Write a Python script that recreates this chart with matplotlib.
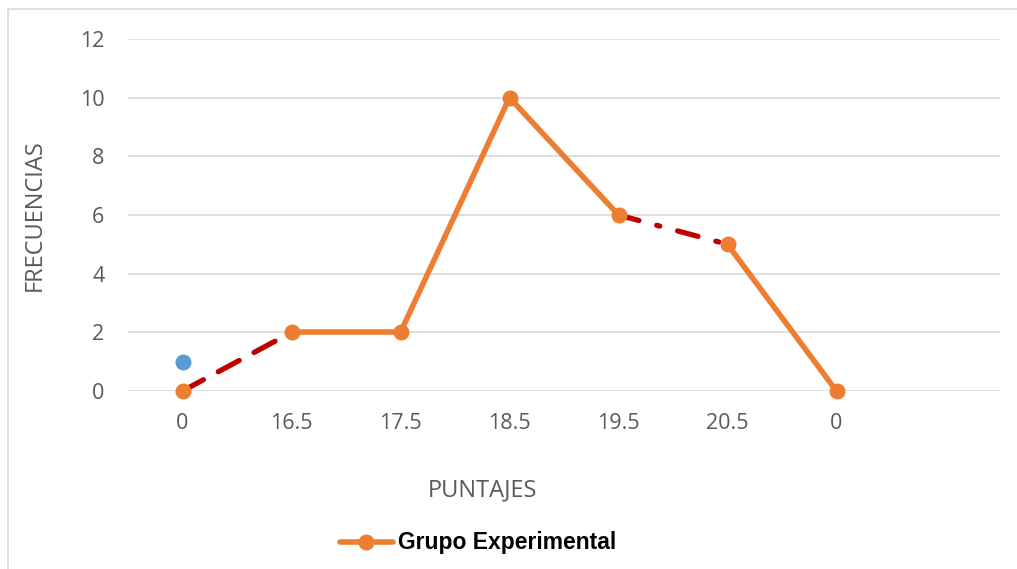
import matplotlib.pyplot as plt
from matplotlib.patches import Rectangle

# chart data
categorias = ['0', '16.5', '17.5', '18.5', '19.5', '20.5', '0', '']
frecuencias = [0, 2, 2, 10, 6, 5, 0]
punto_azul = [1]
tramos_rojos = [(0, 1, (0, (4.5, 3.2))), (4, 5, (0, (4.0, 3.5, 0.6, 3.5)))]

NARANJA = '#ED7D31'
ROJO = '#C00000'
AZUL = '#5B9BD5'
GRIS = '#595959'

fig = plt.figure(figsize=(10.17, 5.69), dpi=100)
W, H = 1017, 569
ax = fig.add_axes([128 / W, 1 - 391 / H, (1000 - 128) / W, (391 - 39) / H])

# outer chart frame (left/top edges visible)
fig.patches.append(Rectangle((8 / W, -0.1), 1.2, 1 - 9 / H + 0.1, transform=fig.transFigure,
                             fill=False, edgecolor='#D9D9D9', linewidth=1.2))

x = list(range(len(frecuencias)))

# solid orange segments
for i in range(len(frecuencias) - 1):
    if any(a == i for a, b, s in tramos_rojos):
        continue
    ax.plot([x[i], x[i + 1]], [frecuencias[i], frecuencias[i + 1]], color=NARANJA,
            linewidth=4, solid_capstyle='round', zorder=3, clip_on=False)

# red dashed segments
for a, b, estilo in tramos_rojos:
    ax.plot([x[a], x[b]], [frecuencias[a], frecuencias[b]], color=ROJO, linewidth=3.8,
            linestyle=estilo, dash_capstyle='round', zorder=3, clip_on=False)

ax.plot(x, frecuencias, linestyle='none', marker='o', markersize=10.5, color=NARANJA,
        zorder=4, clip_on=False)
ax.plot([0], punto_azul, linestyle='none', marker='o', markersize=10.5, color=AZUL,
        zorder=4, clip_on=False)

ax.set_xlim(-0.5, len(categorias) - 0.5)
ax.set_ylim(0, 12)
ax.set_yticks(range(0, 13, 2))
ax.set_xticks(range(len(categorias)))
ax.set_xticklabels(categorias)
ax.yaxis.grid(True, color='#D9D9D9', linewidth=1.2)
ax.set_axisbelow(True)
for s in ax.spines.values():
    s.set_visible(False)
ax.tick_params(length=0, labelsize=15.5, labelcolor=GRIS)
ax.tick_params(axis='x', pad=16)
ax.tick_params(axis='y', pad=17)
for lab in ax.get_xticklabels() + ax.get_yticklabels():
    lab.set_family('Open Sans')

fig.text(35 / W, 1 - 215 / H, 'FRECUENCIAS', rotation=90, ha='center', va='center',
         fontsize=17, color=GRIS, family='Open Sans')
fig.text(482 / W, 1 - 490 / H, 'PUNTAJES', ha='center', va='center',
         fontsize=17, color=GRIS, family='Open Sans')

# legend
fig.lines.append(plt.Line2D([340 / W, 393 / W], [1 - 542 / H] * 2, transform=fig.transFigure,
                            color=NARANJA, linewidth=4, solid_capstyle='round'))
fig.lines.append(plt.Line2D([366 / W], [1 - 542 / H], transform=fig.transFigure,
                            color=NARANJA, marker='o', markersize=10.5, linestyle='none'))
fig.text(398 / W, 1 - 542 / H, 'Grupo Experimental', ha='left', va='center',
         fontsize=16.5, fontweight='bold', color='black', family='Liberation Sans')

fig.savefig('out.png', dpi=100)
